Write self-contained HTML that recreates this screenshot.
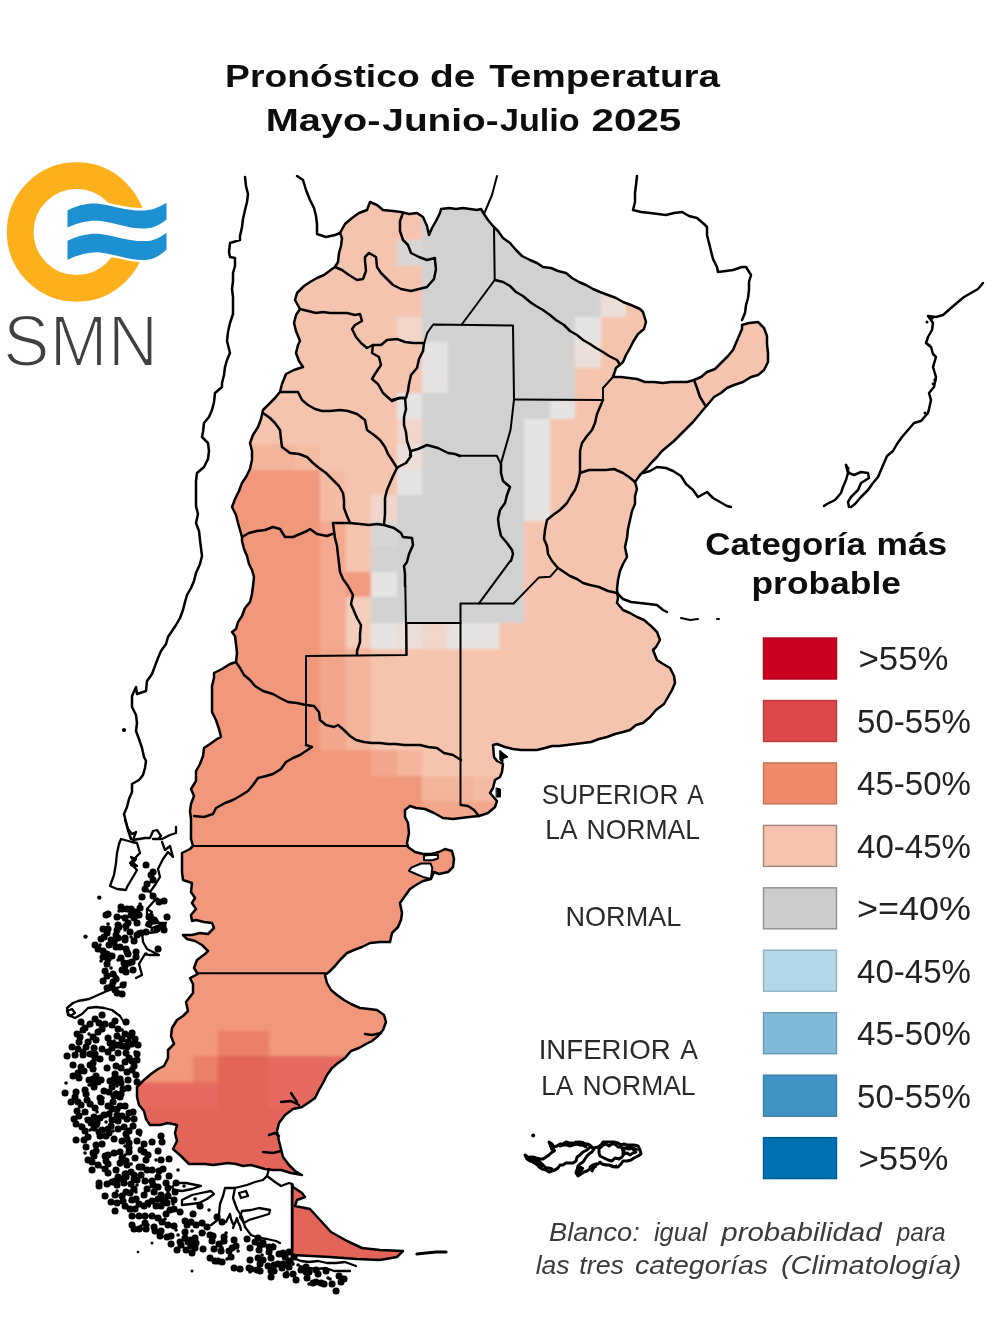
<!DOCTYPE html>
<html><head><meta charset="utf-8"><title>Pronóstico de Temperatura</title>
<style>html,body{margin:0;padding:0;background:#fff}svg{display:block}text{font-family:"Liberation Sans",sans-serif}</style></head><body>
<svg width="992" height="1323" viewBox="0 0 992 1323">
<defs><filter id="soft" x="0" y="0" width="100%" height="100%" filterUnits="userSpaceOnUse"><feGaussianBlur stdDeviation="0.55"/></filter><filter id="gb" x="100" y="150" width="720" height="1150" filterUnits="userSpaceOnUse"><feGaussianBlur stdDeviation="1.7"/></filter></defs>
<rect width="100%" height="100%" fill="#fff"/>
<g filter="url(#soft)">
<defs><path id="argp" d="M340 233 345 224 352 218 359 213 367 210 370 202 377 205 383 210 393 211 401 212 409 214 417 213 423 217 427 226 429 235 432 228 436 221 440 213 441 209 449 208 456 209 463 208 470 209 477 210 481 209 484 214 488 220 493 226 498 231 503 238 510 243 516 250 522 256 530 260 537 263 543 267 551 268 558 271 566 273 572 278 579 282 586 285 593 289 600 292 608 295 616 298 623 302 631 305 640 309 643 312 646 322 644 329 638 334 633 342 630 348 626 355 623 362 616 368 613 377 621 377 629 378 637 379 645 382 654 382 663 383 671 382 679 382 687 382 694 380 701 377 707 372 715 369 721 363 728 356 733 350 736 343 739 336 742 329 742 325 749 323 758 322 764 328 767 336 767 344 768 353 768 362 764 370 758 375 751 377 743 382 734 385 727 388 721 393 714 397 709 403 703 410 698 416 693 422 686 429 680 435 674 441 668 446 662 451 657 457 652 462 647 468 640 475 635 482 637 489 635 496 635 504 632 511 630 520 628 529 627 538 625 547 627 557 623 564 620 571 618 580 617 589 618 598 617 603 623 610 630 613 637 617 644 620 651 626 657 632 660 640 656 647 653 650 657 660 663 664 670 668 674 676 675 683 672 690 668 697 664 704 656 710 650 717 643 723 636 725 630 730 623 732 615 734 607 737 599 739 591 742 583 743 575 744 567 745 559 746 552 746 545 748 537 750 529 750 521 750 513 749 505 747 497 744 493 745 494 757 497 761 503 764 502 772 500 777 495 780 493 788 490 793 497 801 495 807 488 813 479 816 469 817 461 818 453 819 443 818 434 813 425 809 416 808 410 806 405 810 405 817 408 823 409 833 407 843 408 847 415 852 423 854 431 854 439 852 445 849 452 851 454 859 453 867 448 872 439 874 434 872 431 879 423 881 416 885 410 889 405 896 400 903 402 913 401 920 398 927 392 933 390 942 380 942 370 943 362 947 354 950 347 953 340 960 335 966 329 972 325 975 327 983 331 990 337 995 344 1000 351 1004 360 1008 369 1009 377 1010 384 1015 386 1022 383 1030 378 1036 372 1041 366 1044 359 1048 351 1051 345 1058 338 1063 332 1068 327 1075 323 1083 319 1090 315 1098 308 1103 302 1107 293 1109 285 1115 279 1123 277 1131 279 1141 281 1149 283 1157 289 1165 295 1171 302 1175 291 1173 281 1170 273 1170 265 1169 258 1167 251 1165 243 1166 236 1164 228 1163 221 1164 213 1165 205 1164 197 1164 189 1164 181 1156 173 1149 177 1141 175 1133 177 1125 168 1123 160 1125 150 1125 146 1119 144 1111 139 1105 137 1097 137 1087 144 1080 151 1074 158 1069 164 1066 168 1058 168 1050 174 1044 171 1036 172 1028 177 1020 183 1016 188 1011 186 1002 193 993 193 984 190 978 198 974 194 968 197 960 205 954 208 951 202 945 195 941 187 939 183 935 192 935 200 933 208 934 214 928 212 923 204 922 196 920 192 921 191 915 196 909 192 903 195 898 191 892 192 883 183 880 182 872 182 863 182 853 190 849 193 846 191 839 191 829 191 819 190 811 191 804 194 796 191 789 196 781 196 771 200 764 203 756 204 748 210 744 217 739 221 737 219 729 216 720 212 712 212 703 212 695 212 686 214 678 214 673 222 669 230 664 236 662 237 653 236 644 235 636 232 632 236 629 238 622 242 616 245 608 250 602 252 594 253 586 254 577 252 570 249 564 247 556 244 549 242 541 242 537 240 530 238 523 236 515 232 507 235 499 239 491 242 483 246 477 250 469 252 460 252 451 250 443 253 435 258 427 261 419 263 410 269 404 275 398 280 392 282 384 286 374 294 370 303 367 299 361 296 353 298 345 300 341 296 331 294 323 296 315 300 309 295 300 297 293 304 286 310 282 317 278 324 275 332 269 335 267 338 262 339 253 341 246 342 238ZM292 1184 293 1187 302 1193 305 1197 297 1200 295 1206 310 1209 320 1220 331 1232 347 1241 362 1248 380 1250 403 1251 397 1257 380 1260 357 1259 330 1257 292 1255Z"/><clipPath id="arg"><use href="#argp"/></clipPath></defs>
<g clip-path="url(#arg)"><g filter="url(#gb)"><rect x="110" y="160" width="700" height="1130" fill="#f5c4ae"/><g shape-rendering="crispEdges">
<rect x="422.0" y="189.2" width="178.8" height="25.8" fill="#d1d1d1"/>
<rect x="422.0" y="214.7" width="178.8" height="25.8" fill="#d1d1d1"/>
<rect x="396.5" y="240.2" width="25.8" height="25.8" fill="#d8d6d5"/>
<rect x="422.0" y="240.2" width="178.8" height="25.8" fill="#d1d1d1"/>
<rect x="422.0" y="265.7" width="178.8" height="25.8" fill="#d1d1d1"/>
<rect x="422.0" y="291.2" width="178.8" height="25.8" fill="#d1d1d1"/>
<rect x="600.5" y="291.2" width="25.8" height="25.8" fill="#ecdfd9"/>
<rect x="396.5" y="316.7" width="25.8" height="25.8" fill="#f1d6cb"/>
<rect x="422.0" y="316.7" width="153.3" height="25.8" fill="#d1d1d1"/>
<rect x="575.0" y="316.7" width="25.8" height="25.8" fill="#e5e4e3"/>
<rect x="422.0" y="342.2" width="25.8" height="25.8" fill="#e5e4e3"/>
<rect x="447.5" y="342.2" width="127.8" height="25.8" fill="#d1d1d1"/>
<rect x="575.0" y="342.2" width="25.8" height="25.8" fill="#ecdfd9"/>
<rect x="422.0" y="367.7" width="25.8" height="25.8" fill="#e5e4e3"/>
<rect x="447.5" y="367.7" width="127.8" height="25.8" fill="#d1d1d1"/>
<rect x="396.5" y="393.2" width="25.8" height="25.8" fill="#e5e4e3"/>
<rect x="422.0" y="393.2" width="153.3" height="25.8" fill="#d1d1d1"/>
<rect x="396.5" y="418.7" width="25.8" height="25.8" fill="#f1d6cb"/>
<rect x="422.0" y="418.7" width="102.3" height="25.8" fill="#d1d1d1"/>
<rect x="524.0" y="418.7" width="25.8" height="25.8" fill="#e5e4e3"/>
<rect x="218.0" y="444.2" width="76.8" height="25.8" fill="#f4b59d"/>
<rect x="294.5" y="444.2" width="25.8" height="25.8" fill="#f5bca4"/>
<rect x="396.5" y="444.2" width="25.8" height="25.8" fill="#ecdfd9"/>
<rect x="422.0" y="444.2" width="102.3" height="25.8" fill="#d1d1d1"/>
<rect x="524.0" y="444.2" width="25.8" height="25.8" fill="#e5e4e3"/>
<rect x="167.0" y="469.7" width="153.3" height="25.8" fill="#f0977b"/>
<rect x="320.0" y="469.7" width="25.8" height="25.8" fill="#f5bca4"/>
<rect x="396.5" y="469.7" width="25.8" height="25.8" fill="#e5e4e3"/>
<rect x="422.0" y="469.7" width="102.3" height="25.8" fill="#d1d1d1"/>
<rect x="524.0" y="469.7" width="25.8" height="25.8" fill="#e5e4e3"/>
<rect x="167.0" y="495.2" width="153.3" height="25.8" fill="#f0977b"/>
<rect x="320.0" y="495.2" width="25.8" height="25.8" fill="#f5bca4"/>
<rect x="371.0" y="495.2" width="25.8" height="25.8" fill="#f1d6cb"/>
<rect x="396.5" y="495.2" width="127.8" height="25.8" fill="#d1d1d1"/>
<rect x="524.0" y="495.2" width="25.8" height="25.8" fill="#e5e4e3"/>
<rect x="167.0" y="520.7" width="153.3" height="25.8" fill="#f0977b"/>
<rect x="320.0" y="520.7" width="25.8" height="25.8" fill="#f4a990"/>
<rect x="371.0" y="520.7" width="25.8" height="25.8" fill="#d8d6d5"/>
<rect x="396.5" y="520.7" width="127.8" height="25.8" fill="#d1d1d1"/>
<rect x="167.0" y="546.2" width="153.3" height="25.8" fill="#f0977b"/>
<rect x="320.0" y="546.2" width="25.8" height="25.8" fill="#f4a990"/>
<rect x="371.0" y="546.2" width="153.3" height="25.8" fill="#d1d1d1"/>
<rect x="167.0" y="571.7" width="153.3" height="25.8" fill="#f0977b"/>
<rect x="320.0" y="571.7" width="25.8" height="25.8" fill="#f4a990"/>
<rect x="345.5" y="571.7" width="25.8" height="25.8" fill="#f19c81"/>
<rect x="371.0" y="571.7" width="25.8" height="25.8" fill="#e5e4e3"/>
<rect x="396.5" y="571.7" width="127.8" height="25.8" fill="#d1d1d1"/>
<rect x="167.0" y="597.2" width="153.3" height="25.8" fill="#f0977b"/>
<rect x="320.0" y="597.2" width="25.8" height="25.8" fill="#f4a990"/>
<rect x="345.5" y="597.2" width="25.8" height="25.8" fill="#f4cdbd"/>
<rect x="371.0" y="597.2" width="153.3" height="25.8" fill="#d1d1d1"/>
<rect x="167.0" y="622.7" width="153.3" height="25.8" fill="#f0977b"/>
<rect x="320.0" y="622.7" width="25.8" height="25.8" fill="#f4a990"/>
<rect x="345.5" y="622.7" width="25.8" height="25.8" fill="#f4cdbd"/>
<rect x="371.0" y="622.7" width="25.8" height="25.8" fill="#e5e4e3"/>
<rect x="396.5" y="622.7" width="25.8" height="25.8" fill="#ecdfd9"/>
<rect x="422.0" y="622.7" width="25.8" height="25.8" fill="#f1d6cb"/>
<rect x="447.5" y="622.7" width="51.3" height="25.8" fill="#e5e4e3"/>
<rect x="167.0" y="648.2" width="153.3" height="25.8" fill="#f0977b"/>
<rect x="320.0" y="648.2" width="25.8" height="25.8" fill="#f2a78c"/>
<rect x="345.5" y="648.2" width="25.8" height="25.8" fill="#f4b59d"/>
<rect x="167.0" y="673.7" width="153.3" height="25.8" fill="#f0977b"/>
<rect x="320.0" y="673.7" width="25.8" height="25.8" fill="#f2a78c"/>
<rect x="345.5" y="673.7" width="25.8" height="25.8" fill="#f4b59d"/>
<rect x="167.0" y="699.2" width="153.3" height="25.8" fill="#f0977b"/>
<rect x="320.0" y="699.2" width="25.8" height="25.8" fill="#f2a78c"/>
<rect x="345.5" y="699.2" width="25.8" height="25.8" fill="#f4b59d"/>
<rect x="167.0" y="724.7" width="153.3" height="25.8" fill="#f0977b"/>
<rect x="320.0" y="724.7" width="25.8" height="25.8" fill="#f2a78c"/>
<rect x="345.5" y="724.7" width="25.8" height="25.8" fill="#f4b59d"/>
<rect x="167.0" y="750.2" width="204.3" height="25.8" fill="#f0977b"/>
<rect x="371.0" y="750.2" width="25.8" height="25.8" fill="#f2a78c"/>
<rect x="396.5" y="750.2" width="25.8" height="25.8" fill="#f4b59d"/>
<rect x="167.0" y="775.7" width="255.3" height="25.8" fill="#f0977b"/>
<rect x="422.0" y="775.7" width="51.3" height="25.8" fill="#f4b59d"/>
<rect x="473.0" y="775.7" width="25.8" height="25.8" fill="#f5bca4"/>
<rect x="167.0" y="801.2" width="255.3" height="25.8" fill="#f0977b"/>
<rect x="422.0" y="801.2" width="76.8" height="25.8" fill="#f2a78c"/>
<rect x="116.0" y="826.7" width="433.8" height="25.8" fill="#f0977b"/>
<rect x="116.0" y="852.2" width="433.8" height="25.8" fill="#f0977b"/>
<rect x="116.0" y="877.7" width="433.8" height="25.8" fill="#f0977b"/>
<rect x="116.0" y="903.2" width="433.8" height="25.8" fill="#f0977b"/>
<rect x="116.0" y="928.7" width="433.8" height="25.8" fill="#f0977b"/>
<rect x="116.0" y="954.2" width="433.8" height="25.8" fill="#f0977b"/>
<rect x="116.0" y="979.7" width="433.8" height="25.8" fill="#f0977b"/>
<rect x="116.0" y="1005.2" width="433.8" height="25.8" fill="#f0977b"/>
<rect x="116.0" y="1030.7" width="433.8" height="25.8" fill="#f0977b"/>
<rect x="218.0" y="1030.7" width="51.3" height="25.8" fill="#eb8069"/>
<rect x="116.0" y="1056.2" width="76.8" height="25.8" fill="#f0977b"/>
<rect x="192.5" y="1056.2" width="25.8" height="25.8" fill="#eb8069"/>
<rect x="218.0" y="1056.2" width="51.3" height="25.8" fill="#e3655a"/>
<rect x="269.0" y="1056.2" width="178.8" height="25.8" fill="#e66a5e"/>
<rect x="116.0" y="1081.7" width="102.3" height="25.8" fill="#e66a5e"/>
<rect x="218.0" y="1081.7" width="51.3" height="25.8" fill="#e3655a"/>
<rect x="269.0" y="1081.7" width="178.8" height="25.8" fill="#e66a5e"/>
<rect x="116.0" y="1107.2" width="382.8" height="25.8" fill="#e3655a"/>
<rect x="116.0" y="1132.7" width="382.8" height="25.8" fill="#e3655a"/>
<rect x="116.0" y="1158.2" width="382.8" height="25.8" fill="#e3655a"/>
<rect x="116.0" y="1183.7" width="382.8" height="25.8" fill="#e3655a"/>
<rect x="116.0" y="1209.2" width="382.8" height="25.8" fill="#e3655a"/>
<rect x="116.0" y="1234.7" width="382.8" height="25.8" fill="#e3655a"/>
<rect x="116.0" y="1260.2" width="382.8" height="25.8" fill="#e3655a"/>
<rect x="116.0" y="1285.7" width="382.8" height="25.8" fill="#e3655a"/>
<rect x="549.5" y="401" width="25.8" height="18" fill="#e5e4e3"/>
</g></g></g>
<g fill="none" stroke="#000" stroke-width="2.5" stroke-linejoin="round" stroke-linecap="round">
<use href="#argp"/>
<path d="M281 1102 291 1101 299 1105"/>
<path d="M291 1093 295 1099 297 1102"/>
<path d="M269 1135 275 1133 279 1136"/>
<path d="M263 1152 273 1153 281 1151"/>
<path d="M381 1033 372 1035 365 1034"/>
<path d="M424.0 855.5 L430.6 855.0 L438.0 855.0 L437.9 858.5 L432.3 860.3 L424.0 860.3 Z" fill="#fff" stroke-width="2"/>
<path d="M430.6 863.5 L421.0 863.5 L411.3 867.6 L408.9 870.8 L416.0 874.0 L424.0 877.3 L430.6 878.9 L431.5 874.8 L432.3 868.0 Z" fill="#fff" stroke-width="2"/>
<path d="M500.0 750.6 L508.0 757.0 L503.0 758.7 L503.0 762.7 L500.0 760.0 Z" fill="#000" stroke-width="1"/>
<path d="M496.5 788.0 L500.5 789.0 L500.5 797.0 L496.5 797.0 Z" fill="#000" stroke-width="1"/>
<path d="M335 267 342 270 349 275 357 280 363 279 366 271 365 261 365 257 369 253 376 257 377 267 381 273 387 279 393 285 401 289 411 291 419 289 427 287 434 279 436 269 435 261 435 258 427 260 419 257 411 253 408 245 403 240 400 231 400 221 403 213"/>
<path d="M300 309 308 311 316 313 323 312 330 313 338 313 347 313 355 315 360 314 362 321 355 325 352 329 356 337 361 343 367 348 373 345 381 345 387 340 397 339 405 342 413 343 420 343 424 343"/>
<path d="M373 345 372 353 379 357 381 365 375 374 372 379 378 384 383 393 392 401 399 398 406 398 408 391 409 384 411 375 417 368 419 359 423 351 424 343"/>
<path d="M424.2 343.2 L427.2 333.0 L433.2 324.5 L513.0 325.4 L514.0 399.6" stroke-width="2"/>
<path d="M461.4 325.0 L494.7 280.0" stroke-width="2"/>
<path d="M494.7 280.0 L494.0 228.0" stroke-width="2"/>
<path d="M495 280 503 282 510 286 516 292 523 296 530 302 536 306 543 310 550 315 556 320 564 325 570 331 577 335 583 340 590 344 596 348 603 352 609 356 617 360 619 363"/>
<path d="M514.0 399.6 L603.0 400.0 L603.0 388.0 L613.0 377.0" stroke-width="2"/>
<path d="M603 400 600 407 597 414 595 423 592 430 587 436 582 443 580 451 580 460 580 469 580 473 578 482 575 490 571 496 567 503 560 510 553 515 547 520 545 530 544 539 547 546 548 554 552 561 558 568 564 572 570 576 577 579 583 583 590 585 599 587 608 591 617 593"/>
<path d="M580 473 589 470 597 470 606 470 614 469 623 473 629 477 635 482"/>
<path d="M694 380 697 388 700 397 705 405"/>
<path d="M514.0 399.6 L510.5 430.0 L500.8 463.9" stroke-width="2"/>
<path d="M410 455 411 451 418 449 427 445 438 448 448 453 455 454 460 456"/>
<path d="M459.7 455.8 L496.8 455.8 L500.8 463.9" stroke-width="2"/>
<path d="M501 464 501 473 503 481 510 487 507 495 505 503 500 510 498 519 499 527 501 536 507 543 512 550 513 554 511 561"/>
<path d="M510.5 560.6 L479.0 603.4" stroke-width="2"/>
<path d="M557.3 568.7 L550.0 576.8 L538.7 577.6 L513.7 603.4" stroke-width="2"/>
<path d="M392 400 400 398 405 398 406 409 404 417 404 425 406 432 407 441 410 450 411 456 406 463 400 466 397 468"/>
<path d="M280 392 289 392 298 392 302 400 308 405 315 409 322 411 330 411 340 410 348 411 357 414 365 420 367 430 374 435 380 440 385 447 388 454 392 460 397 468"/>
<path d="M263 413 270 418 275 423 280 430 281 439 282 447 290 453 299 454 307 457 313 463 319 468 326 473 333 480 339 486 343 493 344 500 344 508 347 516 350 523"/>
<path d="M242 537 249 533 257 531 265 530 273 527 280 529 285 537 293 537 300 534 307 531 310 529 317 534 327 536 332 534"/>
<path d="M333 523 342 523 350 523 360 524 369 525 377 524 384 525 394 528 401 533 403 537 412 538 413 545 409 554 407 562 404 566 405 574 405 582 405 586"/>
<path d="M405.3 585.5 L406.5 655.0" stroke-width="2"/>
<path d="M397 468 393 476 390 483 387 490 385 498 385 506 385 514 384 525"/>
<path d="M333 523 334 531 335 538 337 546 338 555 339 563 340 572 343 579 348 586 353 595 351 604 354 611 357 618 361 625 360 634 360 642 357 651 357 655"/>
<path d="M306.0 745.0 L306.0 656.0 L406.5 655.0 L406.5 623.0 L460.5 623.0" stroke-width="2"/>
<path d="M460.5 805.0 L460.5 603.4 L513.7 603.4" stroke-width="2"/>
<path d="M236 662 240 668 244 675 250 680 255 686 263 691 273 694 280 698 288 702 297 703 306 705"/>
<path d="M306 705 314 706 319 712 320 720 326 725 334 727 338 725 344 730 350 736 356 740 364 742 372 743 380 743 388 744 396 744 404 745 412 745 420 745 428 747 437 748 444 753 453 755 461 760"/>
<path d="M306 745 312 747 306 751 300 755 293 758 286 762 281 769 273 774 266 776 258 778 253 785 248 791 240 796 233 800 225 803 216 808 213 814 204 817 194 816"/>
<path d="M461 805 468 806 474 810 479 816"/>
<path d="M193.0 846.0 L408.0 846.0" stroke-width="2"/>
<path d="M196.5 973.3 L326.0 973.3" stroke-width="2"/>
<path d="M292.4 1184.0 L292.4 1254.5" stroke-width="2"/>
<path d="M245 177 246 186 248 194 247 202 245 210 243 219 242 227 240 236 240 240 230 243 229 252 230 257 235 258 235 266 233 273 233 281 232 289 233 297 233 306 233 314 230 323 228 332 227 341 229 349 230 353 227 360 225 367 224 375 222 383 222 387 215 393 214 402 212 410 209 417 204 423 203 432 202 437 208 443 209 451 208 459 204 467 197 473 196 481 196 489 196 497 196 506 198 514 196 523 199 531 200 540 201 548 202 556 200 564 196 573 194 581 191 588 187 595 185 602 183 610 180 618 176 625 172 631 168 637 166 644 161 651 158 658 155 666 152 674 147 681 146 691 137 694 136 687 132 696 132 707 136 715 137 723 136 731 139 739 142 748 144 757 146 761 145 768 143 775 139 780 132 784 132 792 129 799 127 807 124 814 126 822 128 830 131 839"/>
<path d="M297 176 303 180 306 190 310 200 314 208 316 216 317 224 317 234 326 237 335 235 340 233"/>
<path d="M497.0 176.0 L492.0 195.0 L484.0 214.0" stroke-width="2"/>
<path d="M637 176 636 185 635 193 635 202 633 210 641 212 650 213 658 214 666 215 674 213 682 212 689 216 697 218 704 224 707 227 707 235 709 243 711 251 713 259 717 267 718 272 726 271 733 270 742 267 746 267 751 275 749 282 749 290 748 298 746 305 745 313 742 320"/>
<path d="M643 473 650 471 657 467 666 468 673 471 681 476 686 484 693 490 698 497 707 492 713 498 720 502 727 506 731 507"/>
<path d="M617 593 623 599 631 602 640 603 649 604 657 605 663 610 667 612"/>
<path d="M681.0 618.0 L690.0 620.0 L698.0 619.0" stroke-width="2"/>
<path d="M717.0 619.0 L719.0 619.0" stroke-width="2"/>
<path d="M983 283 978 289 971 293 964 297 958 302 951 308 943 315 936 317 928 316 933 323 932 330 928 337 926 343 931 347 933 354 936 357 933 367 936 377 934 387 929 393 931 400 929 409 928 413 921 421 914 423 908 430 902 437 897 444 893 451 887 456 884 463 881 470 878 477 873 483 868 490 861 497 855 504 851 507"/>
<path d="M846 465 849 473 854 475 861 472 868 473 869 478 861 483 858 490 851 497 848 502 849 507"/>
<path d="M846 465 848 473 846 480 843 487 841 493 835 500 827 504 824 506"/>
</g>
<path fill="none" stroke="#000" stroke-width="7" stroke-linecap="round" d="M112 956h.1M123 985h.1M95 945h.1M130 932h.1M101 939h.1M107 954h.1M122 909h.1M114 942h.1M127 952h.1M136 957h.1M131 909h.1M108 914h.1M113 974h.1M125 940h.1M121 958h.1M119 927h.1M104 937h.1M107 933h.1M125 918h.1M112 987h.1M126 926h.1M122 970h.1M103 951h.1M103 981h.1M116 979h.1M128 923h.1M117 917h.1M137 935h.1M132 962h.1M125 938h.1M133 970h.1M124 963h.1M118 938h.1M139 915h.1M134 941h.1M122 994h.1M109 945h.1M117 930h.1M120 947h.1M107 988h.1M113 982h.1M129 963h.1M137 923h.1M98 949h.1M106 915h.1M135 912h.1M116 935h.1M117 993h.1M108 959h.1M108 929h.1M116 947h.1M134 918h.1M121 907h.1M125 966h.1M126 949h.1M118 925h.1M107 976h.1M127 909h.1M105 971h.1M103 957h.1M136 952h.1M103 929h.1M126 972h.1M115 990h.1M107 964h.1M131 915h.1M111 940h.1M128 954h.1M149 924h.1M153 872h.1M163 926h.1M164 901h.1M146 865h.1M159 902h.1M154 921h.1M151 875h.1M147 884h.1M142 897h.1M158 949h.1M167 917h.1M146 932h.1M157 929h.1M164 930h.1M145 889h.1M140 908h.1M153 896h.1M141 933h.1M149 917h.1M153 880h.1M283 1253h.1M146 1160h.1M83 1052h.1M339 1276h.1M309 1272h.1M153 1185h.1M289 1267h.1M126 1192h.1M141 1175h.1M76 1140h.1M116 1045h.1M129 1143h.1M115 1181h.1M90 1024h.1M71 1102h.1M93 1153h.1M67 1056h.1M268 1266h.1M107 1068h.1M95 1019h.1M120 1079h.1M114 1153h.1M129 1131h.1M234 1268h.1M174 1209h.1M231 1257h.1M181 1245h.1M221 1251h.1M112 1109h.1M210 1235h.1M93 1079h.1M187 1225h.1M105 1169h.1M95 1058h.1M101 1080h.1M125 1174h.1M92 1170h.1M88 1137h.1M161 1195h.1M293 1274h.1M313 1283h.1M232 1248h.1M122 1116h.1M101 1102h.1M132 1216h.1M94 1117h.1M137 1060h.1M128 1080h.1M79 1078h.1M258 1258h.1M168 1188h.1M99 1183h.1M316 1270h.1M154 1227h.1M96 1040h.1M105 1024h.1M86 1094h.1M224 1241h.1M102 1049h.1M125 1034h.1M186 1250h.1M134 1179h.1M134 1189h.1M105 1156h.1M146 1229h.1M133 1112h.1M135 1209h.1M203 1249h.1M132 1044h.1M132 1033h.1M117 1036h.1M192 1253h.1M94 1048h.1M123 1089h.1M258 1238h.1M185 1221h.1M111 1126h.1M202 1233h.1M135 1158h.1M168 1196h.1M174 1226h.1M115 1074h.1M85 1112h.1M279 1254h.1M115 1195h.1M251 1269h.1M141 1150h.1M214 1249h.1M84 1071h.1M122 1141h.1M147 1189h.1M152 1216h.1M85 1028h.1M93 1063h.1M90 1104h.1M111 1202h.1M104 1091h.1M120 1097h.1M148 1203h.1M213 1236h.1M88 1160h.1M129 1058h.1M88 1120h.1M122 1039h.1M124 1127h.1M86 1047h.1M105 1196h.1M86 1147h.1M112 1120h.1M114 1096h.1M134 1175h.1M159 1171h.1M188 1242h.1M240 1269h.1M191 1222h.1M274 1265h.1M114 1139h.1M136 1075h.1M269 1247h.1M180 1212h.1M98 1165h.1M77 1034h.1M306 1267h.1M332 1284h.1M112 1048h.1M122 1046h.1M78 1073h.1M168 1225h.1M99 1132h.1M196 1243h.1M100 1059h.1M289 1261h.1M218 1261h.1M271 1271h.1M112 1182h.1M260 1271h.1M139 1204h.1M123 1201h.1M109 1114h.1M115 1211h.1M125 1062h.1M155 1231h.1M180 1242h.1M90 1065h.1M127 1072h.1M110 1081h.1M185 1232h.1M88 1042h.1M100 1118h.1M126 1053h.1M78 1049h.1M120 1106h.1M130 1193h.1M142 1167h.1M122 1196h.1M263 1260h.1M263 1243h.1M122 1158h.1M137 1141h.1M269 1252h.1M73 1076h.1M289 1252h.1M202 1223h.1M81 1067h.1M195 1238h.1M321 1283h.1M296 1280h.1M72 1047h.1M257 1270h.1M128 1088h.1M126 1134h.1M127 1119h.1M126 1161h.1M93 1037h.1M121 1083h.1M161 1231h.1M83 1055h.1M207 1227h.1M127 1047h.1M112 1087h.1M94 1128h.1M78 1102h.1M170 1210h.1M106 1136h.1M108 1129h.1M117 1185h.1M196 1225h.1M82 1127h.1M139 1132h.1M121 1068h.1M224 1237h.1M131 1184h.1M96 1145h.1M99 1023h.1M73 1065h.1M127 1165h.1M260 1245h.1M134 1066h.1M94 1156h.1M137 1082h.1M134 1119h.1M174 1200h.1M162 1222h.1M154 1192h.1M210 1258h.1M131 1172h.1M118 1053h.1M137 1054h.1M85 1131h.1M273 1247h.1M259 1250h.1M79 1116h.1M301 1270h.1M65 1093h.1M195 1248h.1M249 1268h.1M283 1264h.1M250 1248h.1M127 1139h.1M108 1052h.1M139 1167h.1M286 1275h.1M98 1082h.1M145 1223h.1M129 1113h.1M130 1036h.1M117 1115h.1M247 1239h.1M116 1082h.1M75 1055h.1M118 1029h.1M130 1209h.1M144 1206h.1M102 1144h.1M285 1257h.1M144 1152h.1M96 1076h.1M112 1025h.1M106 1161h.1M112 1058h.1M116 1066h.1M91 1123h.1M92 1162h.1M139 1229h.1M132 1070h.1M100 1098h.1M75 1097h.1M98 1032h.1M306 1272h.1M166 1214h.1M191 1246h.1M108 1038h.1M126 1177h.1M83 1030h.1M79 1042h.1M139 1216h.1M129 1148h.1M108 1164h.1M121 1179h.1M80 1037h.1M77 1111h.1M255 1242h.1M229 1251h.1M171 1244h.1M95 1054h.1M158 1177h.1M87 1100h.1M102 1029h.1M129 1152h.1M108 1106h.1M236 1246h.1M133 1126h.1M94 1087h.1M109 1133h.1M121 1094h.1M108 1173h.1M278 1264h.1M307 1278h.1M96 1151h.1M118 1121h.1M109 1092h.1M99 1186h.1M222 1262h.1M171 1236h.1M136 1199h.1M135 1039h.1M115 1021h.1M120 1152h.1M163 1200h.1M76 1124h.1M191 1240h.1M117 1109h.1M271 1258h.1M108 1155h.1M158 1187h.1M167 1203h.1M107 1184h.1M95 1108h.1M125 1106h.1M161 1206h.1M166 1183h.1M137 1180h.1M81 1022h.1M344 1279h.1M81 1105h.1M158 1199h.1M147 1170h.1M134 1229h.1M120 1163h.1M85 1090h.1M132 1061h.1M341 1282h.1M326 1271h.1M271 1277h.1M117 1203h.1M119 1045h.1M102 1130h.1M160 1236h.1M152 1170h.1M97 1123h.1M144 1195h.1M125 1206h.1M93 1069h.1M138 1045h.1M118 1129h.1M102 1015h.1M84 1140h.1M76 1092h.1M100 1136h.1M118 1177h.1M185 1238h.1M318 1274h.1M294 1257h.1M90 1054h.1M152 1201h.1M128 1042h.1M282 1268h.1M250 1260h.1M148 1155h.1M114 1079h.1M260 1264h.1M167 1237h.1M104 1115h.1M274 1271h.1M93 1084h.1M113 1102h.1M324 1284h.1M74 1119h.1M110 1043h.1M89 1080h.1M215 1261h.1M145 1181h.1M126 1022h.1M316 1282h.1M132 1200h.1M177 1250h.1M156 1206h.1M158 1218h.1M212 1241h.1M145 1216h.1M116 1094h.1M124 1183h.1M152 1181h.1M132 1225h.1M336 1291h.1M234 1240h.1M144 1144h.1M219 1244h.1M116 1170h.1M217 1217h.1M163 1169h.1M161 1160h.1M222 1222h.1M162 1142h.1M158 1151h.1M193 1214h.1M169 1159h.1M169 1176h.1M175 1192h.1M152 1142h.1M200 1206h.1M161 1136h.1M176 1183h.1"/>
<path fill="none" stroke="#000" stroke-width="3.5" stroke-linecap="round" d="M138 932h.1M123 939h.1M125 983h.1M133 942h.1M121 917h.1M100 945h.1M116 976h.1M111 968h.1M118 960h.1M136 915h.1M110 985h.1M101 961h.1M125 930h.1M119 911h.1M106 957h.1M108 924h.1M131 937h.1M140 904h.1M157 899h.1M152 930h.1M152 915h.1M146 954h.1M148 891h.1M136 1192h.1M103 1098h.1M97 1112h.1M141 1226h.1M145 1215h.1M138 1044h.1M120 1165h.1M115 1170h.1M292 1262h.1M238 1251h.1M330 1279h.1M168 1192h.1M126 1172h.1M117 1086h.1M95 1018h.1M135 1052h.1M222 1248h.1M155 1227h.1M125 1155h.1M106 1122h.1M120 1095h.1M249 1260h.1M131 1164h.1M98 1126h.1M204 1233h.1M125 1146h.1M137 1185h.1M305 1269h.1M293 1264h.1M127 1191h.1M227 1259h.1M212 1240h.1M287 1272h.1M176 1230h.1M149 1206h.1M264 1246h.1M117 1191h.1M271 1270h.1M84 1113h.1M140 1135h.1M122 1030h.1M157 1207h.1M164 1223h.1M221 1247h.1M85 1153h.1M298 1265h.1M144 1180h.1M165 1184h.1M309 1284h.1M226 1233h.1M116 1092h.1M130 1201h.1M230 1257h.1M308 1275h.1M223 1241h.1M161 1234h.1M178 1235h.1M124 1048h.1M113 1131h.1M101 1167h.1M90 1130h.1M89 1085h.1M328 1278h.1M146 1158h.1M262 1255h.1M192 1231h.1M150 1181h.1M117 1110h.1M114 1041h.1M109 1134h.1M81 1125h.1M193 1253h.1M158 1201h.1M80 1068h.1M250 1272h.1M173 1204h.1M66 1083h.1M273 1245h.1M165 1219h.1M89 1034h.1M148 1225h.1M86 1119h.1M155 1191h.1M268 1253h.1M156 1160h.1M184 1186h.1M178 1170h.1M209 1210h.1M195 1199h.1"/>
<g fill="none" stroke="#000" stroke-width="2.3" stroke-linejoin="round" stroke-linecap="round">
<path d="M121 839 132 842 137 843 140 853 130 863 137 870 133 877 127 887 126 890 117 889 110 886 114 875 116 863 117 853 119 844Z"/>
<path d="M131 857 136 859 133 863 137 866 131 865 134 861Z"/>
<path d="M125 820 128 829 132 834 136 832 133 840 145 838 150 838 153 831 157 830 161 836 158 839 153 839 162 839 170 835 176 833 176 827"/>
<path d="M162 842 165 850 170 846 173 857 168 852 163 859 158 869 160 877 155 885 150 892 155 900 147 909 147 918 155 923 166 923 157 932 147 933 142 932 143 942 147 949 155 953 159 955 149 955 145 954 139 964 142 975 136 978"/>
<path d="M147 909 152 912 149 916 156 918 160 925 152 928 146 925 150 921"/>
<path d="M125 986 116 988 107 991 98 995 89 999 78 1001 73 1003 67 1008 68 1015 75 1018 82 1014 88 1008 96 1007 104 1008 112 1010 120 1016 125 1024"/>
<path d="M67 1011 72 1009 75 1013 70 1016Z"/>
<path d="M176 1183 186 1183 196 1185 201 1186 192 1189 182 1191 174 1190 172 1187Z"/>
<path d="M182 1200 192 1195 201 1193 211 1191 214 1194 207 1199 199 1203 191 1204 182 1205Z"/>
<path d="M243 1186 235 1188 225 1188 223 1196 220 1204 219 1214 219 1219 211 1225"/>
<path d="M235 1188 233 1198 237 1209 242 1217 245 1227 251 1235 259 1238 267 1239 276 1241 280 1243"/>
<path d="M242 1211 251 1210 259 1208 270 1210 269 1214 259 1217 249 1220 244 1223 240 1217Z"/>
<path d="M269 1169 267 1176 275 1182 281 1186 289 1183 292 1184"/>
<path d="M267 1176 263 1180 255 1182 247 1185 243 1186"/>
<path d="M239 1193 246 1191 248 1196 241 1198Z"/>
<path d="M226 1222 228 1218 230 1214 231 1219 233 1224"/>
<path d="M233 1228 235 1223 237 1218 238 1222 240 1226 241 1230"/>
<path d="M293 1258 301 1261 309 1262 318 1261 327 1263 336 1263 345 1262 356 1266"/>
<path d="M300 1266 308 1268 317 1269 326 1268 334 1271 342 1271 350 1271"/>
<path d="M417 1254 426 1253 436 1252 446 1252" stroke-width="3.2"/>
<path d="M525 1155 527 1159 530 1161 533 1161 536 1161 537 1164 539 1167 542 1169 546 1170 549 1172 552 1171 555 1170 558 1168 560 1165 563 1165 566 1163 569 1163 573 1163 576 1161 577 1157 580 1155 583 1152 587 1150 591 1146 588 1144 584 1144 580 1142 576 1143 572 1143 569 1143 566 1142 563 1144 560 1144 557 1146 554 1147 552 1144 549 1142 551 1147 554 1151 551 1153 549 1155 546 1157 543 1159 540 1159 536 1158 533 1157 529 1158Z" stroke-width="3"/>
<path d="M591 1147 594 1148 598 1147 601 1145 603 1142 607 1142 611 1142 614 1142 618 1143 621 1145 624 1144 627 1145 631 1145 634 1145 638 1146 640 1150 641 1154 638 1156 634 1158 631 1160 627 1161 623 1161 621 1164 618 1167 615 1167 612 1166 609 1165 606 1165 602 1164 600 1162 598 1164 594 1165 592 1167 590 1169 587 1171 584 1172 581 1174 578 1176 576 1173 577 1170 578 1166 580 1164 583 1162 585 1159 587 1156 589 1154 592 1152 594 1149Z" stroke-width="3"/>
<path d="M603 1145 606 1144 609 1146 612 1144 615 1144 618 1147 621 1147 624 1150 624 1154 622 1157 619 1159 615 1158 612 1161 608 1160 604 1158 600 1156 599 1153 599 1149Z" stroke-width="3"/>
<path d="M622 1148 625 1148 629 1149 632 1148 636 1152 633 1153 630 1155 627 1153 623 1154 623 1151Z" stroke-width="3"/>
<path d="M590 1167 593 1165 596 1164 594 1167 592 1171" stroke-width="3"/>
<path d="M530 1157 534 1158 537 1159 540 1162 543 1165 546 1168 549 1168 552 1169" stroke-width="3"/>
<path d="M560 1146 563 1145 567 1145 570 1146 573 1145 577 1144 580 1145 583 1145 586 1147" stroke-width="3"/>
</g>
<path d="M527.0 1156.0 L533.0 1158.0 L538.0 1162.0 L543.0 1167.0 L540.0 1168.0 L534.0 1164.0 L528.0 1160.0 Z" fill="#000" stroke="#000" stroke-width="1"/>
<path d="M575.0 1141.0 L583.0 1141.5 L589.0 1145.0 L582.0 1146.0 L575.0 1144.5 Z" fill="#000" stroke="#000" stroke-width="1"/>
<path d="M549.0 1142.0 L553.0 1147.0 L556.0 1151.0 L551.0 1150.0 Z" fill="#000" stroke="#000" stroke-width="1"/>
<path d="M576.0 1170.0 L580.0 1166.0 L584.0 1168.0 L579.0 1176.0 Z" fill="#000" stroke="#000" stroke-width="1"/>
<path d="M592.0 1166.0 L597.0 1163.0 L596.0 1168.0 Z" fill="#000" stroke="#000" stroke-width="1"/>
<path d="M606.0 1164.0 L612.0 1166.0 L617.0 1165.0 L613.0 1168.0 Z" fill="#000" stroke="#000" stroke-width="1"/>
<path d="M626.0 1146.0 L634.0 1147.0 L639.0 1150.0 L632.0 1150.0 Z" fill="#000" stroke="#000" stroke-width="1"/>
<circle cx="932.0" cy="318.0" r="1.8" fill="#000"/>
<circle cx="927.0" cy="322.0" r="1.5" fill="#000"/>
<circle cx="929.0" cy="345.0" r="1.6" fill="#000"/>
<circle cx="935.0" cy="380.0" r="1.7" fill="#000"/>
<circle cx="933.0" cy="384.0" r="1.4" fill="#000"/>
<circle cx="925.0" cy="413.0" r="1.5" fill="#000"/>
<circle cx="848.0" cy="468.0" r="1.6" fill="#000"/>
<circle cx="124.0" cy="730.0" r="2.1" fill="#000"/>
<circle cx="99.3" cy="897.6" r="2.2" fill="#000"/>
<circle cx="85.5" cy="936.6" r="2.2" fill="#000"/>
<circle cx="533.2" cy="1135.4" r="2.0" fill="#000"/>
<circle cx="152.0" cy="1243.0" r="1.5" fill="#000"/>
<circle cx="192.0" cy="1271.0" r="1.5" fill="#000"/>
<circle cx="138.0" cy="1252.0" r="1.3" fill="#000"/>
<g id="logo">
<circle cx="76.6" cy="232" r="56.4" fill="none" stroke="#fbb01f" stroke-width="26.8"/>
<path d="M67.5 210.5 C78 205 90 202.5 100 204 C115 206 128 211.5 145 210.5 C154 210 161 206 166.5 202.8 L200 202.8 L200 251 L166.5 250 C161 254 154 260 145 260 C128 260 115 254 100 252.4 C90 251.5 78 255 67.5 259.9 Z" fill="#fff" stroke="#fff" stroke-width="5" stroke-linejoin="round"/>
<path d="M67.5 210.5 C78 205 90 202.5 100 204 C115 206 128 211.5 145 210.5 C154 210 161 206 166.5 202.8 L166.5 219.6 C161 224 154 228.5 145 228.6 C128 229 115 222.5 100 221 C90 220 78 222.6 67.5 227.6 Z" fill="#1b90d0"/>
<path d="M67.5 240.7 C78 235.7 90 233 100 233.9 C115 235.5 128 241.5 145 241.1 C154 241 161 237 166.5 232.7 L166.5 249.8 C161 254.5 154 259.8 145 259.9 C128 260.3 115 254 100 252.4 C90 251.5 78 254.8 67.5 259.9 Z" fill="#1b90d0"/>
<text x="3" y="365.8" font-size="72" fill="#414042" textLength="155" lengthAdjust="spacingAndGlyphs" stroke="#fff" stroke-width="2.1" paint-order="fill stroke">SMN</text>
</g>
<g font-weight="bold" fill="#111">
<text x="225.1" y="87" font-size="32" textLength="194.6" lengthAdjust="spacingAndGlyphs">Pronóstico</text>
<text x="430.1" y="87" font-size="32" textLength="45.4" lengthAdjust="spacingAndGlyphs">de</text>
<text x="489.3" y="87" font-size="32" textLength="230.6" lengthAdjust="spacingAndGlyphs">Temperatura</text>
<text x="265.7" y="130.5" font-size="32" textLength="114.7" lengthAdjust="spacingAndGlyphs">Mayo-</text>
<text x="382.3" y="130.5" font-size="32" textLength="116.4" lengthAdjust="spacingAndGlyphs">Junio-</text>
<text x="499.9" y="130.5" font-size="32" textLength="79.8" lengthAdjust="spacingAndGlyphs">Julio</text>
<text x="591.5" y="130.5" font-size="32" textLength="89.8" lengthAdjust="spacingAndGlyphs">2025</text>
<text x="705.3" y="554.7" font-size="32" textLength="160.6" lengthAdjust="spacingAndGlyphs">Categoría</text>
<text x="876.5" y="554.7" font-size="32" textLength="70.7" lengthAdjust="spacingAndGlyphs">más</text>
<text x="751.5" y="594.2" font-size="32" textLength="149.4" lengthAdjust="spacingAndGlyphs">probable</text>
</g>
<g fill="#2a2a2a">
<text x="541.7" y="803.6" font-size="28.5" textLength="136.6" lengthAdjust="spacingAndGlyphs">SUPERIOR</text>
<text x="687.3" y="803.6" font-size="28.5" textLength="16.5" lengthAdjust="spacingAndGlyphs">A</text>
<text x="545.3" y="838.6" font-size="28.5" textLength="32.2" lengthAdjust="spacingAndGlyphs">LA</text>
<text x="586.5" y="838.6" font-size="28.5" textLength="113.4" lengthAdjust="spacingAndGlyphs">NORMAL</text>
<text x="565.5" y="926.3" font-size="28.5" textLength="115.8" lengthAdjust="spacingAndGlyphs">NORMAL</text>
<text x="538.7" y="1059.3" font-size="28.5" textLength="132.0" lengthAdjust="spacingAndGlyphs">INFERIOR</text>
<text x="680.3" y="1059.3" font-size="28.5" textLength="17.7" lengthAdjust="spacingAndGlyphs">A</text>
<text x="541.3" y="1094.5" font-size="28.5" textLength="32.0" lengthAdjust="spacingAndGlyphs">LA</text>
<text x="582.5" y="1094.5" font-size="28.5" textLength="113.0" lengthAdjust="spacingAndGlyphs">NORMAL</text>
</g>
<g font-size="32.5" fill="#222">
<rect x="763.5" y="638.0" width="73" height="41" fill="#ca0020" stroke="#b0001c" stroke-width="1.4"/>
<text x="858.5" y="670.4" textLength="90" lengthAdjust="spacingAndGlyphs">&gt;55%</text>
<rect x="763.5" y="700.5" width="73" height="41" fill="#dd464a" stroke="#b93a3e" stroke-width="1.4"/>
<text x="857" y="732.9" textLength="114" lengthAdjust="spacingAndGlyphs">50-55%</text>
<rect x="763.5" y="762.9" width="73" height="41" fill="#ef8a68" stroke="#c47357" stroke-width="1.4"/>
<text x="857" y="795.3" textLength="114" lengthAdjust="spacingAndGlyphs">45-50%</text>
<rect x="763.5" y="825.4" width="73" height="41" fill="#f5c3ad" stroke="#a08478" stroke-width="1.4"/>
<text x="857" y="857.8" textLength="114" lengthAdjust="spacingAndGlyphs">40-45%</text>
<rect x="763.5" y="887.8" width="73" height="41" fill="#cccccc" stroke="#8f8f8f" stroke-width="1.4"/>
<text x="857" y="920.2" textLength="114" lengthAdjust="spacingAndGlyphs">&gt;=40%</text>
<rect x="763.5" y="950.2" width="73" height="41" fill="#b3d7e9" stroke="#8fb0c2" stroke-width="1.4"/>
<text x="857" y="982.6" textLength="114" lengthAdjust="spacingAndGlyphs">40-45%</text>
<rect x="763.5" y="1012.7" width="73" height="41" fill="#80badb" stroke="#6a98b3" stroke-width="1.4"/>
<text x="857" y="1045.1" textLength="114" lengthAdjust="spacingAndGlyphs">45-50%</text>
<rect x="763.5" y="1075.2" width="73" height="41" fill="#4393c3" stroke="#3a7ea8" stroke-width="1.4"/>
<text x="857" y="1107.6" textLength="114" lengthAdjust="spacingAndGlyphs">50-55%</text>
<rect x="763.5" y="1137.6" width="73" height="41" fill="#0571b0" stroke="#055e92" stroke-width="1.4"/>
<text x="858.5" y="1170.0" textLength="90" lengthAdjust="spacingAndGlyphs">&gt;55%</text>
</g>
<g font-style="italic" fill="#3a3a3a">
<text x="549.1" y="1241" font-size="25" textLength="90.6" lengthAdjust="spacingAndGlyphs">Blanco:</text>
<text x="654.0" y="1241" font-size="25" textLength="53.4" lengthAdjust="spacingAndGlyphs">igual</text>
<text x="721.3" y="1241" font-size="25" textLength="160.3" lengthAdjust="spacingAndGlyphs">probabilidad</text>
<text x="896.8" y="1241" font-size="25" textLength="48.8" lengthAdjust="spacingAndGlyphs">para</text>
<text x="535.7" y="1274" font-size="25" textLength="33.9" lengthAdjust="spacingAndGlyphs">las</text>
<text x="579.3" y="1274" font-size="25" textLength="44.6" lengthAdjust="spacingAndGlyphs">tres</text>
<text x="634.9" y="1274" font-size="25" textLength="133.2" lengthAdjust="spacingAndGlyphs">categorías</text>
<text x="780.9" y="1274" font-size="25" textLength="180.6" lengthAdjust="spacingAndGlyphs">(Climatología)</text>
</g>
</g>
</svg></body></html>
